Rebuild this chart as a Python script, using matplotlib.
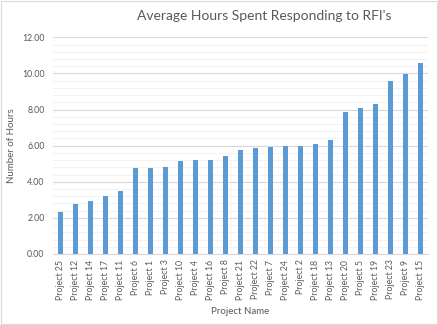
import matplotlib
matplotlib.use("Agg")
import matplotlib.pyplot as plt
from matplotlib.ticker import MultipleLocator
from matplotlib.patches import Rectangle

projects = ["Project 25", "Project 12", "Project 14", "Project 17", "Project 11",
            "Project 6", "Project 1", "Project 3", "Project 10", "Project 4",
            "Project 16", "Project 8", "Project 21", "Project 22", "Project 7",
            "Project 24", "Project 2", "Project 18", "Project 13", "Project 20",
            "Project 5", "Project 19", "Project 23", "Project 9", "Project 15"]
hours = [2.30, 2.76, 2.93, 3.19, 3.48,
         4.76, 4.76, 4.83, 5.15, 5.19,
         5.19, 5.43, 5.74, 5.87, 5.94,
         5.98, 5.98, 6.11, 6.30, 7.87,
         8.09, 8.33, 9.59, 9.96, 10.57]

plt.rcParams['font.family'] = ['Lato', 'DejaVu Sans']
txt = '#595959'

fig = plt.figure(figsize=(4.39, 3.25), dpi=100)
fig.patches.append(Rectangle((0.002, 0.004), 0.994, 0.993, transform=fig.transFigure,
                             fill=False, edgecolor='#D9D9D9', lw=0.8))
ax = fig.add_axes([0.1207, 0.2185, 0.8543, 0.6665])

x = range(len(projects))
ax.bar(x, hours, width=0.28, color='#5B9BD5', zorder=3)

ax.set_xlim(-0.5, len(projects) - 0.5)
ax.set_ylim(0, 12)
ax.yaxis.set_major_locator(MultipleLocator(2))
ax.yaxis.set_minor_locator(MultipleLocator(0.4))
ax.grid(axis='y', which='major', color='#D9D9D9', lw=0.8, zorder=0)
ax.grid(axis='y', which='minor', color='#F2F2F2', lw=0.8, zorder=0)
ax.set_yticklabels([f"{v:.2f}" for v in ax.get_yticks()])

ax.set_xticks(list(x))
ax.set_xticklabels(projects, rotation=90)
ax.tick_params(axis='both', which='both', length=0, labelsize=6.3, colors=txt)
ax.tick_params(axis='x', pad=4)
ax.tick_params(axis='y', pad=6)

for s in ['top', 'right', 'left']:
    ax.spines[s].set_visible(False)
ax.spines['bottom'].set_color('#D9D9D9')
ax.spines['bottom'].set_linewidth(0.8)

ax.set_xlabel("Project Name", fontsize=7, color=txt, labelpad=5)
ax.set_ylabel("Number of Hours", fontsize=7, color=txt, labelpad=4)
fig.text(0.601, 0.95, "Average Hours Spent Responding to RFI's", ha='center', va='center',
         fontsize=10, color=txt)

fig.savefig("out.png", dpi=100)
